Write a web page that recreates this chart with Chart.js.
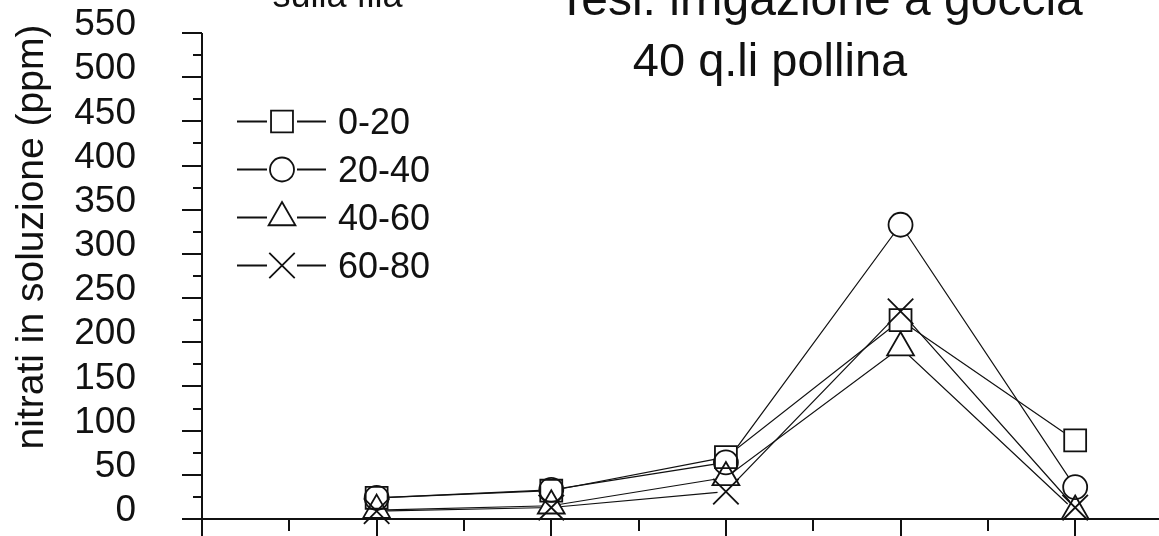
<!DOCTYPE html>
<html>
<head>
<meta charset="utf-8">
<script src="https://cdn.jsdelivr.net/npm/chart.js@4/dist/chart.umd.min.js"></script>
<style>
  html, body { margin: 0; padding: 0; background: #fff; }
  canvas { display: block; }
</style>
</head>
<body>
<canvas id="grafico" width="1159" height="536"></canvas>
<script>
const FONT = '"Liberation Sans", Arial, sans-serif';
const INK = '#111';

// sampling dates along the x axis and soil depth classes (cm)
const campionamenti = [1, 2, 3, 4, 5];
const profondita = ['0-20', '20-40', '40-60', '60-80'];

// nitrate in soil solution (ppm) for each depth
const nitrati_0_20  = [24, 32, 70, 225, 89];
const nitrati_20_40 = [24, 33, 64, 333, 36];
const nitrati_40_60 = [10, 15, 47, 194, 9];
const nitrati_60_80 = [9, 13, 31, 235, 13];

// y axis range and tick step
const yMin = 0, yMax = 550, yStep = 50;

const serie = [nitrati_0_20, nitrati_20_40, nitrati_40_60, nitrati_60_80];

// marker shape per depth
const simboli = [
  { style: 'rect', r: 15.5 },
  { style: 'circle', r: 12 },
  { style: 'triangle', r: 15.5 },
  { style: 'crossRot', r: 18 }
];

// three layers per series: connecting line, white knock-out under the symbol, symbol outline
const datasets = [];
serie.forEach((vals, i) => {
  const pts = campionamenti.map((x, k) => ({ x: x, y: vals[k] }));
  const s = simboli[i];
  datasets.push({
    label: profondita[i], data: pts, order: 3,
    borderColor: INK, borderWidth: 1.2, pointRadius: 0, fill: false, clip: false
  });
  datasets.push({
    label: profondita[i], data: pts, order: 2, showLine: false,
    pointStyle: s.style === 'crossRot' ? 'circle' : s.style,
    pointRadius: s.style === 'crossRot' ? 8 : s.r,
    pointBackgroundColor: '#fff', pointBorderColor: '#fff', pointBorderWidth: 1, clip: false
  });
  datasets.push({
    label: profondita[i], data: pts, order: 1, showLine: false,
    pointStyle: s.style, pointRadius: s.r,
    pointBackgroundColor: 'rgba(0,0,0,0)', pointBorderColor: INK, pointBorderWidth: 1.8, clip: false
  });
});

function simbolo(ctx, style, x, y, r) {
  ctx.beginPath();
  if (style === 'rect') {
    const s = r * Math.SQRT1_2;
    ctx.rect(x - s, y - s, 2 * s, 2 * s);
  } else if (style === 'circle') {
    ctx.arc(x, y, r, 0, Math.PI * 2);
  } else if (style === 'triangle') {
    for (let k = 0; k < 3; k++) {
      const a = k * Math.PI * 2 / 3;
      const px = x + Math.sin(a) * r, py = y - Math.cos(a) * r;
      if (k === 0) ctx.moveTo(px, py); else ctx.lineTo(px, py);
    }
    ctx.closePath();
  } else {
    const d = r * Math.SQRT1_2;
    ctx.moveTo(x - d, y - d); ctx.lineTo(x + d, y + d);
    ctx.moveTo(x + d, y - d); ctx.lineTo(x - d, y + d);
  }
  if (style !== 'crossRot') { ctx.fillStyle = '#fff'; ctx.fill(); }
  ctx.stroke();
}

// axes with major/minor tick marks, legend and captions
const decorazioni = {
  id: 'decorazioni',
  afterDraw(chart) {
    const ctx = chart.ctx;
    const xs = chart.scales.x, ys = chart.scales.y, a = chart.chartArea;
    ctx.save();
    ctx.strokeStyle = INK;
    ctx.lineWidth = 2;
    ctx.beginPath();
    ctx.moveTo(a.left, Math.round(ys.getPixelForValue(yMax)));
    ctx.lineTo(a.left, chart.height);
    ctx.moveTo(a.left, a.bottom);
    ctx.lineTo(a.right, a.bottom);
    for (let v = yMin; v <= yMax; v += yStep / 2) {
      const y = Math.round(ys.getPixelForValue(v));
      const len = (v % yStep === 0) ? 20 : 9;
      ctx.moveTo(a.left - len, y); ctx.lineTo(a.left, y);
    }
    for (let v = 0; v <= xs.max; v += 0.5) {
      const x = Math.round(xs.getPixelForValue(v));
      const len = Number.isInteger(v) ? 20 : 12;
      ctx.moveTo(x, a.bottom); ctx.lineTo(x, a.bottom + len);
    }
    ctx.stroke();

    // legend
    ctx.font = '36px ' + FONT;
    ctx.textAlign = 'left';
    ctx.textBaseline = 'alphabetic';
    profondita.forEach((lab, i) => {
      const y = 121.5 + 48 * i;
      const cx = 282;
      ctx.lineWidth = 2;
      ctx.beginPath();
      ctx.moveTo(237, y); ctx.lineTo(267, y);
      ctx.moveTo(297, y); ctx.lineTo(326, y);
      ctx.stroke();
      ctx.lineWidth = 1.8;
      simbolo(ctx, simboli[i].style, cx, y, simboli[i].r);
      ctx.fillStyle = INK;
      ctx.fillText(lab, 338, y + 12.5);
    });

    // captions
    ctx.fillStyle = INK;
    ctx.textAlign = 'center';
    ctx.font = '36px ' + FONT;
    ctx.fillText('sulla fila', 337.5, 6.5);
    ctx.font = '48px ' + FONT;
    ctx.fillText('Tesi: irrigazione a goccia', 820, 15);
    ctx.font = '47px ' + FONT;
    ctx.fillText('40 q.li pollina', 770, 76);

    // y axis title
    ctx.save();
    ctx.translate(43, 237);
    ctx.rotate(-Math.PI / 2);
    ctx.font = '39px ' + FONT;
    ctx.fillText('nitrati in soluzione (ppm)', 0, 0);
    ctx.restore();
    ctx.restore();
  }
};

new Chart(document.getElementById('grafico'), {
  type: 'line',
  data: { datasets: datasets },
  options: {
    responsive: false,
    devicePixelRatio: 1,
    animation: false,
    events: [],
    layout: { autoPadding: false, padding: { top: 33, right: 0, bottom: 0, left: 0 } },
    plugins: { legend: { display: false }, tooltip: { enabled: false }, title: { display: false } },
    scales: {
      x: {
        type: 'linear', min: 0, max: 5.48,
        grid: { display: false, drawTicks: false },
        border: { display: false },
        ticks: { display: false },
        afterFit(scale) { scale.height = 17; scale.paddingLeft = 0; scale.paddingRight = 0; }
      },
      y: {
        type: 'linear', min: yMin, max: yMax,
        grid: {
          display: true, drawOnChartArea: false, drawTicks: true,
          tickLength: 66, tickColor: 'rgba(0,0,0,0)', color: 'rgba(0,0,0,0)'
        },
        border: { display: false },
        ticks: {
          stepSize: yStep, autoSkip: false, padding: 0, labelOffset: -8,
          color: INK, font: { family: FONT, size: 37 }
        },
        afterFit(scale) { scale.width = 202; scale.paddingTop = 0; scale.paddingBottom = 0; }
      }
    }
  },
  plugins: [decorazioni]
});
</script>
</body>
</html>
